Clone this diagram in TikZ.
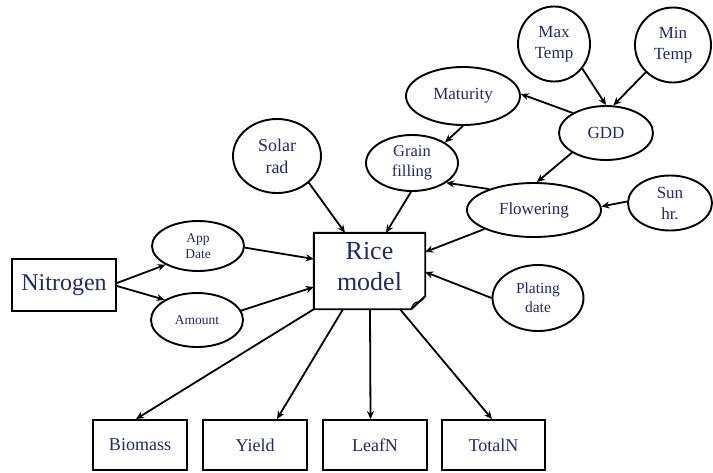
\documentclass[tikz,border=0pt]{standalone}
\usepackage{fontspec}
\setmainfont{Liberation Serif}
\usetikzlibrary{arrows.meta,shapes.geometric,calc}
\definecolor{txt}{RGB}{30,42,110}
\begin{document}
\begin{tikzpicture}[x=1pt,y=-1pt,
  ell/.style={draw,ellipse,line width=1.9pt,inner sep=0pt,text=txt,align=center},
  box/.style={draw,rectangle,line width=1.9pt,inner sep=0pt,text=txt,align=center},
  arr/.style={line width=1.8pt,-{Stealth[length=8pt,width=7pt]}},
  f13/.style={font=\fontsize{13.5}{16}\selectfont},
  f17/.style={font=\fontsize{17}{21}\selectfont},
  f18/.style={font=\fontsize{18}{22}\selectfont},
]
\useasboundingbox (0,0) rectangle (713,472);
\fill[white] (0,0) rectangle (713,472);

% left
\node[box,minimum width=104pt,minimum height=52pt,font=\fontsize{24}{28}\selectfont] (nit) at (64,285) {Nitrogen};
\node[ell,f13,minimum width=92pt,minimum height=50pt] (app) at (198,246) {App\\Date};
\node[ell,f13,minimum width=92pt,minimum height=54pt] (amt) at (197,320) {Amount};

% rice model
\node[minimum width=111pt,minimum height=76pt,inner sep=0pt] (rice) at (369.5,271) {};
\draw[line width=1.9pt,line join=miter] (rice.north west) -- (rice.north east) -- ($(rice.south east)+(0,-13)$)
  -- ($(rice.south east)+(-14,0)$) -- (rice.south west) -- cycle;
\draw[line width=1.2pt] ($(rice.south east)+(-14,0)$) .. controls ($(rice.south east)+(-12,-7)$) and ($(rice.south east)+(-8,-8)$) .. ($(rice.south east)+(-6,-7)$)
  .. controls ($(rice.south east)+(-3,-9)$) .. ($(rice.south east)+(0,-13)$);
\node[text=txt,align=center,font=\fontsize{26}{31}\selectfont] (ricetext) at (369.5,267) {Rice\\model};

% upper nodes
\node[ell,f18,minimum width=88pt,minimum height=74pt] (solar) at (277,156) {Solar\\rad};
\node[ell,font=\fontsize{16.5}{20}\selectfont,minimum width=92pt,minimum height=56pt] (grain) at (412,163) {Grain\\filling};
\node[ell,f17,minimum width=114pt,minimum height=58pt] (mat) at (463,96) {Maturity};
\node[ell,f17,minimum width=94pt,minimum height=54pt] (gdd) at (606,133) {GDD};
\node[ell,f17,minimum width=72pt,minimum height=75pt] (maxt) at (554,44) {Max\\Temp};
\node[ell,f17,minimum width=76pt,minimum height=75pt] (mint) at (673,45) {Min\\Temp};
\node[ell,f17,minimum width=134pt,minimum height=54pt] (flow) at (534,210) {Flowering};
\node[ell,f17,minimum width=84pt,minimum height=55pt] (sun) at (670,203) {Sun\\hr.};
\node[ell,font=\fontsize{15.5}{19}\selectfont,minimum width=91pt,minimum height=66pt] (plat) at (538,298) {Plating\\date};

% outputs
\node[box,f18,minimum width=94pt,minimum height=50pt] (bio) at (140,445) {Biomass};
\node[box,f18,minimum width=104pt,minimum height=50pt] (yield) at (255,445) {Yield};
\node[box,f18,minimum width=104pt,minimum height=50pt] (leaf) at (375,445) {LeafN};
\node[box,f18,minimum width=103pt,minimum height=50pt] (total) at (493.5,445) {TotalN};

% arrows
\draw[arr] ($(nit.east)+(0,-2)$) -- (app.210);
\draw[arr] ($(nit.east)+(0,1)$) -- (amt.148);
\draw[arr] (app.-2) -- ($(rice.west)+(0,-12)$);
\draw[arr] (amt.12) -- ($(rice.west)+(0,16)$);
\draw[arr] (solar.-40) -- ($(rice.north)+(-24.5,0)$);
\draw[arr] (grain.-92) -- ($(rice.north)+(16.5,0)$);
\draw[arr] (flow.201) -- ($(rice.east)+(0,-19)$);
\draw[arr] (plat.180) -- ($(rice.east)+(0,1)$);

\draw[arr] (maxt.-41) -- (gdd.90);
\draw[arr] (mint.-135) -- (gdd.75);
\draw[arr] (gdd.149) -- (mat.2);
\draw[arr] (gdd.210) -- (flow.84);
\draw[arr] (mat.-90) -- (grain.32);
\draw[arr] (flow.155) -- (grain.-30);
\draw[arr] (sun.178) -- (flow.3);

\draw[arr] (rice.south west) -- ($(bio.north)+(-4,0)$);
\draw[arr] ($(rice.south)+(-26.5,0)$) -- ($(yield.north)+(22,0)$);
\draw[arr] ($(rice.south)+(0.5,0)$) -- ($(leaf.north)+(-4.5,0)$);
\draw[arr] ($(rice.south)+(30.5,0)$) -- ($(total.north)+(-1.5,0)$);
\end{tikzpicture}
\end{document}
